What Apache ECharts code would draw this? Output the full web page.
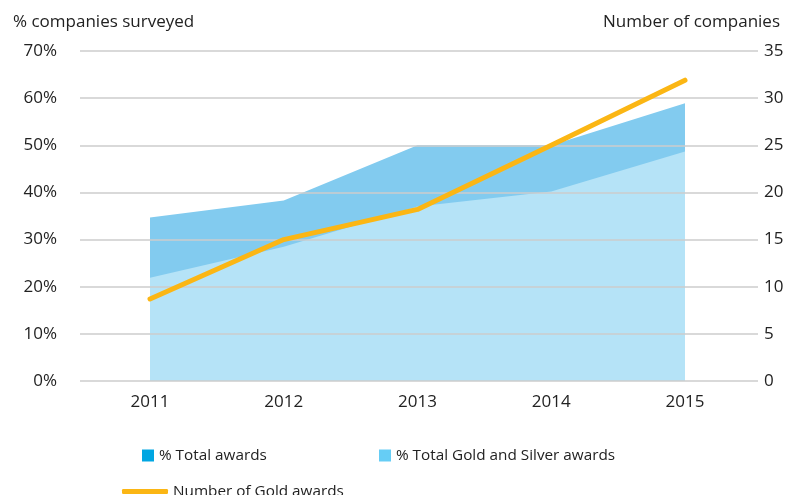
<!DOCTYPE html>
<html><head><meta charset="utf-8">
<script src="https://cdn.jsdelivr.net/npm/echarts@6/dist/echarts.min.js"></script>
<style>html,body{margin:0;padding:0;background:#fff}#c{width:788px;height:495px}</style>
</head><body><div id="c"></div>
<script>
const years = ['2011','2012','2013','2014','2015'];
const totalAwards = [34.7, 38.3, 50, 50, 58.9];
const goldSilverAwards = [21.9, 28.5, 37, 40.2, 48.7];
const goldAwards = [8.7, 15, 18.2, 25, 31.9];
const leftTicks = {min:0, max:70, interval:10};
const rightTicks = {min:0, max:35, interval:5};

const FONT = 'Open Sans';
const TXT = '#222';
const chart = echarts.init(document.getElementById('c'));
chart.setOption({
  animation:false,
  textStyle:{fontFamily:FONT},
  title:[
    {text:'% companies surveyed', left:8, top:9, textStyle:{fontFamily:FONT,fontSize:17,fontWeight:'normal',color:TXT}},
    {text:'Number of companies', right:3, top:9, textStyle:{fontFamily:FONT,fontSize:17,fontWeight:'normal',color:TXT}}
  ],
  grid:[
    {left:80, right:30, top:51, bottom:114},
    {left:150, right:103, top:51, bottom:114}
  ],
  legend:[
    {left:137, top:443, itemWidth:12, itemHeight:12, icon:'rect', selectedMode:false,
     textStyle:{fontFamily:FONT,fontSize:15.3,color:TXT},
     data:[{name:'% Total awards', itemStyle:{color:'#00a6e2'}}]},
    {left:374, top:443, itemWidth:12, itemHeight:12, icon:'rect', selectedMode:false,
     textStyle:{fontFamily:FONT,fontSize:15.3,color:TXT},
     data:[{name:'% Total Gold and Silver awards', itemStyle:{color:'#66cdf5'}}]},
    {left:117, top:479, itemWidth:46, itemHeight:5, icon:'roundRect', selectedMode:false,
     textStyle:{fontFamily:FONT,fontSize:15.3,color:TXT},
     data:[{name:'Number of Gold awards', itemStyle:{color:'#fbb614'}}]}
  ],
  xAxis:[
    {gridIndex:0, type:'category', data:years, show:false},
    {gridIndex:1, type:'category', data:years, boundaryGap:false,
     axisLine:{show:false}, axisTick:{show:false},
     axisLabel:{margin:13, fontFamily:FONT, fontSize:17, color:TXT}}
  ],
  yAxis:[
    {gridIndex:0, type:'value', position:'left', min:leftTicks.min, max:leftTicks.max, interval:leftTicks.interval, z:3,
     axisLine:{show:false}, axisTick:{show:false},
     axisLabel:{formatter:'{value}%', margin:23, fontFamily:FONT, fontSize:17, color:TXT},
     splitLine:{lineStyle:{color:'#cccccc', width:1.5}}},
    {gridIndex:0, type:'value', position:'right', min:rightTicks.min, max:rightTicks.max, interval:rightTicks.interval,
     axisLine:{show:false}, axisTick:{show:false}, splitLine:{show:false},
     axisLabel:{margin:6, fontFamily:FONT, fontSize:17, color:TXT}},
    {gridIndex:1, type:'value', min:leftTicks.min, max:leftTicks.max, show:false},
    {gridIndex:1, type:'value', min:rightTicks.min, max:rightTicks.max, show:false}
  ],
  series:[
    {name:'% Total awards', type:'line', xAxisIndex:1, yAxisIndex:2, data:totalAwards, symbol:'none', z:1,
     itemStyle:{color:'#00a6e2'}, lineStyle:{width:0}, areaStyle:{color:'#82cbef', opacity:1}},
    {name:'% Total Gold and Silver awards', type:'line', xAxisIndex:1, yAxisIndex:2, data:goldSilverAwards, symbol:'none', z:2,
     itemStyle:{color:'#66cdf5'}, lineStyle:{width:0}, areaStyle:{color:'#b5e3f7', opacity:1}},
    {name:'Number of Gold awards', type:'line', xAxisIndex:1, yAxisIndex:3, data:goldAwards, symbol:'none', z:5,
     itemStyle:{color:'#fbb614'}, lineStyle:{width:5, color:'#fbb614', cap:'round', join:'round'}}
  ]
});
</script></body></html>
